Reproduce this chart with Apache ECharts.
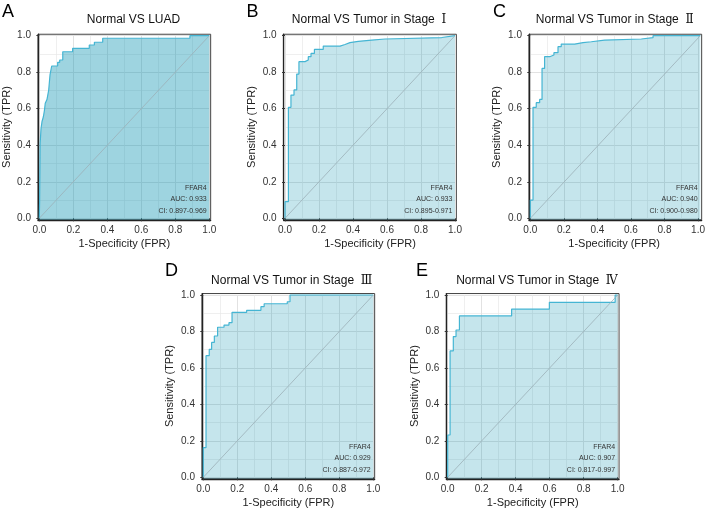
<html>
<head>
    <meta charset="UTF-8">
    <title>ROC FFAR4</title>
    <script src="https://cdn.jsdelivr.net/npm/echarts@6/dist/echarts.min.js"></script>
    <style>
        body { padding: 0; margin: 0; border: none; background: #fff; }
        #echart { width: 708px; height: 510px; }
    </style>
</head>
<body>
<div id="echart"></div>
<script>
    // ROC points [FPR, TPR]
    const rocA = [[0,0],[0.002,0],[0.002,0.1],[0.005,0.1],[0.005,0.41],[0.01,0.41],[0.01,0.49],[0.016,0.49],[0.016,0.53],[0.024,0.53],[0.024,0.556],[0.03,0.556],[0.03,0.59],[0.035,0.59],[0.035,0.63],[0.045,0.63],[0.045,0.65],[0.055,0.65],[0.055,0.70],[0.063,0.70],[0.063,0.785],[0.073,0.785],[0.073,0.834],[0.108,0.834],[0.108,0.854],[0.12,0.854],[0.12,0.867],[0.138,0.867],[0.138,0.912],[0.196,0.912],[0.196,0.931],[0.294,0.931],[0.294,0.949],[0.324,0.949],[0.324,0.964],[0.373,0.964],[0.373,0.986],[0.886,0.986],[0.886,1],[1,1]];
    const rocB = [[0,0],[0,0.091],[0.02,0.091],[0.02,0.608],[0.035,0.608],[0.035,0.675],[0.053,0.675],[0.053,0.703],[0.069,0.703],[0.069,0.79],[0.082,0.79],[0.082,0.858],[0.118,0.858],[0.118,0.867],[0.137,0.867],[0.137,0.885],[0.153,0.885],[0.153,0.903],[0.173,0.903],[0.173,0.925],[0.225,0.925],[0.225,0.943],[0.324,0.943],[0.324,0.952],[0.353,0.952],[0.353,0.962],[0.382,0.962],[0.382,0.969],[0.431,0.969],[0.431,0.976],[0.51,0.976],[0.51,0.982],[0.588,0.982],[0.588,0.99],[0.922,0.99],[0.922,1],[1,1]];
    const rocC = [[0,0],[0,0.1],[0.016,0.1],[0.016,0.608],[0.035,0.608],[0.035,0.633],[0.055,0.633],[0.055,0.651],[0.069,0.651],[0.069,0.821],[0.084,0.821],[0.084,0.885],[0.114,0.885],[0.114,0.894],[0.139,0.894],[0.139,0.907],[0.163,0.907],[0.163,0.94],[0.182,0.94],[0.182,0.954],[0.261,0.954],[0.261,0.962],[0.31,0.962],[0.31,0.967],[0.359,0.967],[0.359,0.976],[0.437,0.976],[0.437,0.982],[0.653,0.982],[0.653,0.989],[0.722,0.989],[0.722,1],[1,1]];
    const rocD = [[0,0],[0,0.163],[0.016,0.163],[0.016,0.667],[0.035,0.667],[0.035,0.702],[0.049,0.702],[0.049,0.74],[0.065,0.74],[0.065,0.775],[0.084,0.775],[0.084,0.823],[0.122,0.823],[0.122,0.835],[0.151,0.835],[0.151,0.848],[0.169,0.848],[0.169,0.905],[0.255,0.905],[0.255,0.916],[0.339,0.916],[0.339,0.936],[0.358,0.936],[0.358,0.952],[0.494,0.952],[0.494,0.963],[0.51,0.963],[0.51,1],[1,1]];
    const rocE = [[0,0],[0,0.232],[0.014,0.232],[0.014,0.693],[0.033,0.693],[0.033,0.772],[0.049,0.772],[0.049,0.808],[0.069,0.808],[0.069,0.885],[0.376,0.885],[0.376,0.923],[0.598,0.923],[0.598,0.96],[0.985,0.96],[0.985,1],[1,1]];
    const diagonal = [[0,0],[1,1]];

    const letters = ['A','B','C','D','E'];
    const titles = ['Normal VS LUAD','Normal VS Tumor in Stage Ⅰ','Normal VS Tumor in Stage Ⅱ','Normal VS Tumor in Stage Ⅲ','Normal VS Tumor in Stage Ⅳ'];
    const markerName = 'FFAR4';
    const aucs = ['0.933','0.933','0.940','0.929','0.907'];
    const cis = ['0.897-0.969','0.895-0.971','0.900-0.980','0.887-0.972','0.817-0.997'];
    const xName = '1-Specificity (FPR)';
    const yName = 'Sensitivity (TPR)';

    // layout of each panel (inner data rect, title centre, letter position)
    const panels = [
        {x: 39.3,  y: 35.7, h: 182.6, tx: 133.5, ty: 12,  lx: 2,     ly: 3,     data: rocA, fill: 'rgba(3,143,174,0.385)'},
        {x: 285,   y: 35.7, h: 182.6, tx: 369,   ty: 12,  lx: 246.5, ly: 3,     data: rocB, fill: 'rgba(3,143,174,0.23)'},
        {x: 530.3, y: 35.7, h: 182.6, tx: 614.7, ty: 12,  lx: 493,   ly: 3,     data: rocC, fill: 'rgba(3,143,174,0.23)'},
        {x: 203.3, y: 295,  h: 182.3, tx: 291.7, ty: 273, lx: 165,   ly: 262.5, data: rocD, fill: 'rgba(3,143,174,0.23)'},
        {x: 447.7, y: 295,  h: 182.3, tx: 537,   ty: 273, lx: 416,   ly: 262.5, data: rocE, fill: 'rgba(3,143,174,0.23)'}
    ];
    const W = 170;
    const EXP = 0.008;
    const FONT = "'Liberation Sans', Arial, sans-serif";
    const ROMAN = "'DejaVu Serif', 'Noto Sans CJK SC', serif";
    const lineColor = '#45b5d3';

    function buildOption() {
        let grid = [], xAxis = [], yAxis = [], series = [], title = [], graphic = [];
        panels.forEach((p, i) => {
            let ex = EXP * W, ey = EXP * p.h;
            // inner grid: ticks, labels, grid lines
            grid.push({left: p.x, top: p.y, width: W, height: p.h, containLabel: false});
            // outer grid: panel border and the data
            grid.push({left: p.x - ex, top: p.y - ey, width: W + 2 * ex, height: p.h + 2 * ey,
                show: true, borderColor: '#444', borderWidth: 1, backgroundColor: '#fff'});
            let gi = i * 2;
            let common = {
                type: 'value', min: 0, max: 1, interval: 0.2,
                axisLine: {show: false},
                axisTick: {show: true, length: 3, lineStyle: {color: '#333', width: 1}},
                axisLabel: {fontSize: 10, fontFamily: FONT, color: '#333',
                    formatter: v => v.toFixed(1)},
                splitLine: {show: true, lineStyle: {color: '#e2e2e2', width: 1}},
                minorSplitLine: {show: true, lineStyle: {color: '#e8e8e8', width: 0.7}},
                minorTick: {show: false, splitNumber: 2},
                nameLocation: 'middle',
                nameTextStyle: {fontSize: 11, fontFamily: FONT, color: '#222'}
            };
            xAxis.push(Object.assign({}, common, {gridIndex: gi, position: 'bottom', offset: ey,
                name: xName, nameGap: 19,
                axisLabel: Object.assign({}, common.axisLabel, {margin: 5})}));
            yAxis.push(Object.assign({}, common, {gridIndex: gi, position: 'left', offset: ex,
                name: yName, nameGap: 26,
                axisLabel: Object.assign({}, common.axisLabel, {margin: 7})}));
            let outer = {
                type: 'value', min: -EXP, max: 1 + EXP,
                axisLine: {show: true, onZero: false, lineStyle: {color: '#222', width: 1.3}},
                axisTick: {show: false}, axisLabel: {show: false}, splitLine: {show: false}
            };
            xAxis.push(Object.assign({gridIndex: gi + 1, position: 'bottom'}, outer));
            yAxis.push(Object.assign({gridIndex: gi + 1, position: 'left'}, outer));

            series.push({
                type: 'line', xAxisIndex: gi + 1, yAxisIndex: gi + 1,
                data: p.data, symbol: 'none', silent: true,
                lineStyle: {color: lineColor, width: 1.2},
                areaStyle: {color: p.fill, opacity: 1, origin: 'start'},
                z: 2
            });
            series.push({
                type: 'line', xAxisIndex: gi + 1, yAxisIndex: gi + 1,
                data: diagonal, symbol: 'none', silent: true,
                lineStyle: {color: '#9cb0b8', width: 0.8},
                z: 3
            });

            // roman stage numerals in a serif face, like the original
            let txt = titles[i].replace(/([\u2160-\u216B])/, ' {r|$1}');
            title.push({text: txt, left: p.tx, top: p.ty, textAlign: 'center', padding: 0,
                textStyle: {fontSize: 12, lineHeight: 16, fontWeight: 'normal', fontFamily: FONT, color: '#111',
                    rich: {r: {fontSize: 12, lineHeight: 16, fontFamily: ROMAN, color: '#111'}}}});
            title.push({text: letters[i], left: p.lx, top: p.ly, padding: 0,
                textStyle: {fontSize: 18, fontWeight: 'normal', fontFamily: FONT, color: '#000'}});

            let rx = p.x + W - 2.6, by = p.y + p.h;
            [[markerName, 30.3], ['AUC: ' + aucs[i], 19], ['CI: ' + cis[i], 7.5]].forEach(t => {
                graphic.push({type: 'text', z: 10, silent: true, style: {
                    text: t[0], x: rx, y: by - t[1], align: 'right', verticalAlign: 'middle',
                    fontSize: 7, fontFamily: FONT, fill: '#333'}});
            });
        });
        return {animation: false, backgroundColor: '#fff', grid, xAxis, yAxis, series, title, graphic};
    }

    window.ec = null;
    window.onload = function () {
        window.ec = echarts.init(document.getElementById('echart'));
        ec.setOption(buildOption(), true);
    }
</script>
</body>
</html>
